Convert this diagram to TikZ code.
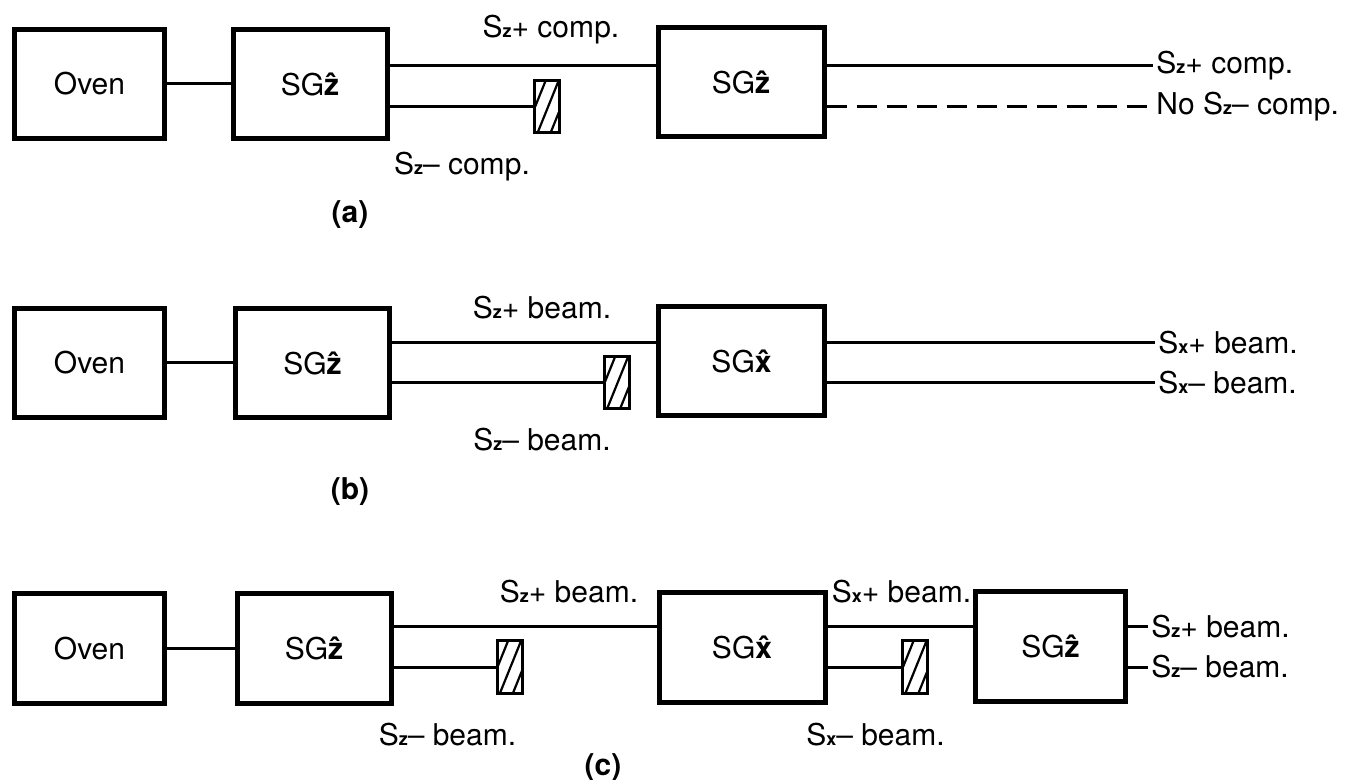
\documentclass[tikz,border=0pt]{standalone}
\usepackage{fontspec}
\setmainfont{TeX Gyre Heros}
\usetikzlibrary{calc}
\newcommand{\spin}[1]{{\fontsize{9}{9}\selectfont\bfseries #1}}
\newcommand{\hatdir}[1]{\textbf{\^{#1}}}

\begin{document}
\begin{tikzpicture}[
      x=0.5pt, y=-0.5pt,
      box/.style={draw, line width=2.5pt, minimum height=54.5pt, inner sep=0pt, font=\fontsize{15}{18}\selectfont},
      narrowbox/.style={box, minimum width=75pt},
      sgbox/.style={box, minimum width=77pt},
      widebox/.style={box, minimum width=83pt},
      stopper/.style={draw, line width=1.5pt, minimum width=12.5pt, minimum height=26pt, inner sep=0pt,
        path picture={\foreach \s in {-10,3,16}
          \draw[line width=1.1pt] ($(path picture bounding box.south west)+(\s,0)$) -- ++(-68:90);}},
      lab/.style={font=\fontsize{15}{18}\selectfont, inner sep=1.5pt},
      partlabel/.style={font=\fontsize{15}{18}\selectfont\bfseries},
      beam/.style={line width=1.5pt}
    ]
      \useasboundingbox (0,0) rectangle (1345,780);

      % (a)
      \node[narrowbox] (ovena) at (89.5,84) {Oven};
      \node[sgbox] (sga1) at (310,84) {SG\hatdir{z}};
      \node[widebox] (sga2) at (741,82.5) {SG\hatdir{z}};
      \node[stopper] (stopa) at (547,107) {};
      \node[lab] (azplus) at (551,30) {S\spin{z}+ comp.};
      \node[lab] (azminus) at (462,167) {S\spin{z}– comp.};
      \node[lab, anchor=west] (aplus) at (1153,66) {S\spin{z}+ comp.};
      \node[lab, anchor=west] (anominus) at (1153,107) {No S\spin{z}– comp.};
      \draw[beam] (ovena.east) -- (ovena.east -| sga1.west);
      \draw[beam] (aplus.west -| sga1.east) -- (aplus.west -| sga2.west);
      \draw[beam] (stopa.west -| sga1.east) -- (stopa.west);
      \draw[beam] (aplus.west -| sga2.east) -- (aplus.west);
      \draw[beam, dash pattern=on 10pt off 5pt] (anominus.west -| sga2.east) -- (anominus.west);
      \node[partlabel] (capa) at (350,215) {(a)};

      % (b)
      \node[narrowbox] (ovenb) at (89.5,363) {Oven};
      \node[sgbox] (sgb1) at (312.5,363) {SG\hatdir{z}};
      \node[widebox] (sgb2) at (741.5,361.5) {SG\hatdir{x}};
      \node[stopper] (stopb) at (616.5,383) {};
      \node[lab] (bzplus) at (542,308) {S\spin{z}+ beam.};
      \node[lab] (bzminus) at (542,440) {S\spin{z}– beam.};
      \node[lab, anchor=west] (bplus) at (1155,343) {S\spin{x}+ beam.};
      \node[lab, anchor=west] (bminus) at (1155,383) {S\spin{x}– beam.};
      \draw[beam] (ovenb.east) -- (ovenb.east -| sgb1.west);
      \draw[beam] (bplus.west -| sgb1.east) -- (bplus.west -| sgb2.west);
      \draw[beam] (stopb.west -| sgb1.east) -- (stopb.west);
      \draw[beam] (bplus.west -| sgb2.east) -- (bplus.west);
      \draw[beam] (bminus.west -| sgb2.east) -- (bminus.west);
      \node[partlabel] (capb) at (350,492) {(b)};

      % (c)
      \node[narrowbox] (ovenc) at (89.5,648.5) {Oven};
      \node[sgbox] (sgc1) at (314,648.5) {SG\hatdir{z}};
      \node[widebox] (sgc2) at (742,647.5) {SG\hatdir{x}};
      \node[narrowbox] (sgc3) at (1050.5,646.5) {SG\hatdir{z}};
      \node[stopper] (stopc1) at (509.5,667) {};
      \node[stopper] (stopc2) at (915,667) {};
      \node[lab] (czplus) at (569,592) {S\spin{z}+ beam.};
      \node[lab] (czminus) at (447.5,735) {S\spin{z}– beam.};
      \node[lab] (cxplus) at (901.5,592) {S\spin{x}+ beam.};
      \node[lab] (cxminus) at (875.5,735) {S\spin{x}– beam.};
      \node[lab, anchor=west] (cplus) at (1148,627) {S\spin{z}+ beam.};
      \node[lab, anchor=west] (cminus) at (1148,667) {S\spin{z}– beam.};
      \draw[beam] (ovenc.east) -- (ovenc.east -| sgc1.west);
      \draw[beam] (cplus.west -| sgc1.east) -- (cplus.west -| sgc2.west);
      \draw[beam] (stopc1.west -| sgc1.east) -- (stopc1.west);
      \draw[beam] (cplus.west -| sgc2.east) -- (cplus.west -| sgc3.west);
      \draw[beam] (stopc2.west -| sgc2.east) -- (stopc2.west);
      \draw[beam] (cplus.west -| sgc3.east) -- (cplus.west);
      \draw[beam] (cminus.west -| sgc3.east) -- (cminus.west);
      \node[partlabel] (capc) at (603,768) {(c)};
    \end{tikzpicture}
\end{document}
